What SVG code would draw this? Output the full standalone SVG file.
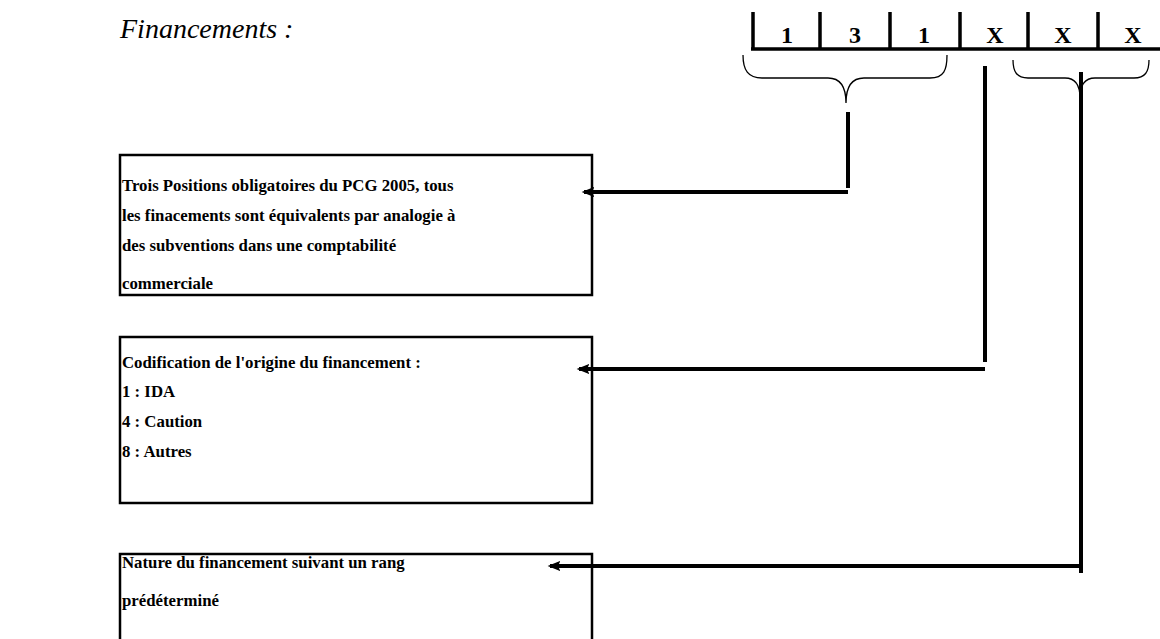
<svg xmlns="http://www.w3.org/2000/svg" width="1160" height="639" viewBox="0 0 1160 639">
<style>
.t{font-family:"Liberation Serif","Times New Roman",serif;font-weight:bold;font-size:16.8px;fill:#000}
.code{font-family:"Liberation Serif","Times New Roman",serif;font-weight:bold;font-size:24px;fill:#000;text-anchor:middle}
.box{fill:#fff;stroke:#000;stroke-width:2.5}
.brace{fill:none;stroke:#000;stroke-width:1.3}
.conn{fill:none;stroke:#000;stroke-width:4}
.frame{fill:none;stroke:#000;stroke-width:3.5}
</style>
<defs>
<marker id="ah" markerWidth="4" markerHeight="4" refX="2.6" refY="2" orient="auto" markerUnits="strokeWidth">
<path d="M3.2,2 L0,0.7 L0.6,2 L0,3.3 Z" fill="#000"/>
</marker>
</defs>
<rect width="1160" height="639" fill="#fff"/>
<text x="120" y="38" style="font-family:'Liberation Serif','Times New Roman',serif;font-style:italic;font-size:28px">Financements :</text>
<g id="code">
<path class="frame" d="M751,49 H1160 M753,12 V49 M820,12 V49 M890,12 V49 M960,12 V49 M1028,12 V49 M1098,12 V49"/>
<text class="code" x="787" y="43">1</text>
<text class="code" x="855" y="43">3</text>
<text class="code" x="924" y="43">1</text>
<text class="code" x="995" y="43">X</text>
<text class="code" x="1063" y="43">X</text>
<text class="code" x="1133" y="43">X</text>
</g>
<g id="braces">
<path class="brace" d="M743,55 C743,70 748,78 762,78 H828 C840,78 846,86 846,103 C846,86 852,78 864,78 H930 C944,78 947,70 947,55"/>
<path class="brace" d="M1013,60 C1013,72 1017,78 1028,78 H1065 C1075,78 1080,84 1080,98 C1080,84 1085,78 1095,78 H1134 C1145,78 1149,72 1149,60"/>
</g>
<g id="box1">
<rect class="box" x="120" y="155" width="472" height="140"/>
<text class="t" x="122" y="191">Trois Positions obligatoires du PCG 2005, tous</text>
<text class="t" x="122" y="221">les finacements sont équivalents par analogie à</text>
<text class="t" x="122" y="251">des subventions dans une comptabilité</text>
<text class="t" x="122" y="289">commerciale</text>
</g>
<g id="box2">
<rect class="box" x="120" y="337" width="472" height="166"/>
<text class="t" x="122" y="368">Codification de l'origine du financement :</text>
<text class="t" x="122" y="397">1 : IDA</text>
<text class="t" x="122" y="427">4 : Caution</text>
<text class="t" x="122" y="457">8 : Autres</text>
</g>
<g id="box3">
<rect class="box" x="120" y="554" width="472" height="100"/>
<text class="t" x="122" y="568">Nature du financement suivant un rang</text>
<text class="t" x="122" y="606">prédéterminé</text>
</g>
<g id="connectors">
<path class="conn" d="M848,112 V188"/>
<path class="conn" d="M848,192 H584" marker-end="url(#ah)"/>
<path class="conn" d="M985,66 V362"/>
<path class="conn" d="M985,369 H579" marker-end="url(#ah)"/>
<path class="conn" d="M1081,72 V573"/>
<path class="conn" d="M1083,566 H550" marker-end="url(#ah)"/>
</g>
</svg>
